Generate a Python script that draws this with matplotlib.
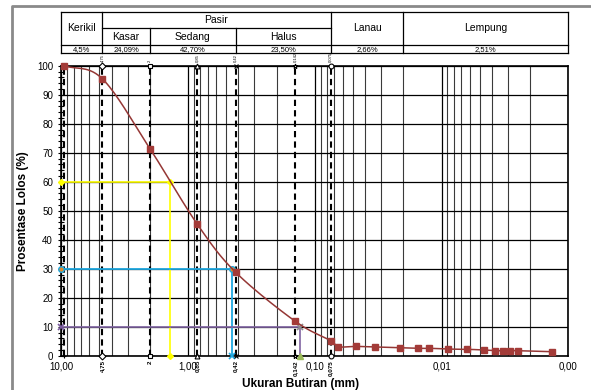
import numpy as np
import matplotlib.pyplot as plt
from matplotlib.lines import Line2D
from matplotlib.ticker import FixedLocator, NullFormatter
import matplotlib.transforms as mtrans

plt.rcParams['font.family'] = ['Liberation Sans', 'DejaVu Sans']

# data analisa saringan + hidrometer
diam = [9.5, 4.75, 2.0, 0.85, 0.42, 0.142, 0.075,
        0.0659, 0.0472, 0.0334, 0.0212, 0.0154, 0.0125, 0.0089,
        0.0063, 0.0046, 0.0038, 0.0033, 0.0029, 0.0025, 0.00135]
lolos = [100, 95.5, 71.41, 45.5, 28.71, 11.8, 5.21,
         3.1, 3.2, 3.0, 2.76, 2.55, 2.55, 2.3,
         2.2, 1.97, 1.72, 1.72, 1.72, 1.72, 1.38]

saringan = [9.5, 4.75, 2.0, 0.85, 0.42, 0.142, 0.075]
label_saringan = ['', '4,75', '2', '0,85', '0,42', '0,142', '0,075']
marker_saringan = ['+', 'D', 's', '^', 'x', '*', 'o']

d60, d30, d10 = 1.40, 0.45, 0.13

# tabel klasifikasi
batas = [10, 4.75, 2.0, 0.42, 0.075, 0.02, 0.001]
persen = ['4,5%', '24,09%', '42,70%', '23,50%', '2,66%', '2,51%']

xticks = [10, 1, 0.1, 0.01, 0.001]
xticklabels = ['10,00', '1,00', '0,10', '0,01', '0,00']


def smooth(x, y, n=20):
    # catmull-rom di ruang log, seperti garis halus excel
    lx = np.log10(x)
    y = np.array(y, float)
    px = np.r_[2*lx[0]-lx[1], lx, 2*lx[-1]-lx[-2]]
    py = np.r_[2*y[0]-y[1], y, 2*y[-1]-y[-2]]
    ox, oy = [], []
    t = np.linspace(0, 1, n)
    for i in range(1, len(px)-2):
        for p, o in ((px, ox), (py, oy)):
            p0, p1, p2, p3 = p[i-1], p[i], p[i+1], p[i+2]
            o.extend(0.5*((2*p1) + (-p0+p2)*t + (2*p0-5*p1+4*p2-p3)*t**2
                          + (-p0+3*p1-3*p2+p3)*t**3))
    return 10**np.array(ox), np.array(oy)


fig = plt.figure(figsize=(5.91, 3.90), dpi=100)
ax = fig.add_axes([61.3/591, 1-355.7/390, 507/591, 290/390])

ax.set_xscale('log')
ax.set_xlim(10, 0.001)
ax.set_ylim(0, 100)

# grid
ax.xaxis.set_major_locator(FixedLocator(xticks))
ax.set_xticklabels(xticklabels, fontsize=7)
minor = [m*10.0**e for e in range(-3, 1) for m in range(2, 10)]
ax.xaxis.set_minor_locator(FixedLocator(minor))
ax.xaxis.set_minor_formatter(NullFormatter())
ax.set_yticks(np.arange(0, 101, 10))
ax.set_yticks(np.arange(0, 101, 2), minor=True)
ax.tick_params(axis='y', which='both', direction='inout', labelsize=7, length=5, width=0.8)
ax.tick_params(axis='y', which='minor', length=4)
ax.tick_params(axis='x', which='both', length=0, labelsize=7, pad=4)
ax.grid(True, which='major', color='black', lw=0.9)
ax.grid(True, which='minor', axis='x', color='#3a3a3a', lw=0.8)
for s in ax.spines.values():
    s.set_linewidth(1.2)

# garis saringan putus-putus
for d in saringan:
    ax.axvline(d, color='black', lw=1.5, ls=(0, (3, 2)), zorder=3)

trans = mtrans.blended_transform_factory(ax.transData, ax.transAxes)
for d, lab, m in zip(saringan, label_saringan, marker_saringan):
    ax.plot([d, d], [0, 100], ls='none', marker=m, ms=3.5, mfc='white', mec='black',
            mew=0.8, zorder=6, clip_on=False)
    ax.text(d, -0.015, lab, transform=trans, rotation=90, ha='center', va='top',
            fontsize=4.5, fontweight='bold')
    ax.text(d, 1.012, lab, transform=trans, rotation=90, ha='center', va='bottom',
            fontsize=3)

# D60, D30, D10
ax.plot([10, d60, d60], [60, 60, 0], color='#FFFF00', lw=1.2, zorder=4)
ax.plot([10, d60, d60], [60, 60, 0], ls='none', marker='D', ms=3, color='#FFFF00', zorder=5, clip_on=False)
ax.plot([10, d30, d30], [30, 30, 0], color='#1FA8E0', lw=1.3, zorder=4)
ax.plot([10, d30], [30, 30], ls='none', marker='o', ms=4, mfc='#E0892A', mec='#1FA8E0', zorder=5, clip_on=False)
ax.plot([d30], [0], ls='none', marker='x', ms=4, color='#1FA8E0', mew=1.2, zorder=5, clip_on=False)
ax.plot([10, d10, d10], [10, 10, 0], color='#8064A2', lw=1.2, zorder=4)
ax.plot([10], [10], ls='none', marker='x', ms=4, color='#7A5A9E', mew=1.2, zorder=5, clip_on=False)
ax.plot([d10], [10], ls='none', marker='x', ms=4, color='#8C8C8C', mew=1.2, zorder=5)
ax.plot([d10], [0], ls='none', marker='^', ms=4, color='#9BBB59', zorder=5, clip_on=False)

# kurva gradasi
sx, sy = smooth(diam, lolos)
ax.plot(sx, sy, color='#953735', lw=1.1, zorder=7)
ax.plot(diam, lolos, ls='none', marker='s', ms=4, color='#A33B38', zorder=8, clip_on=False)

ax.set_ylabel('Prosentase Lolos (%)', fontsize=8.5, fontweight='bold', labelpad=6)
fig.text(301/591, 1-389.5/390, 'Ukuran Butiran (mm)', fontsize=8.5, fontweight='bold',
         ha='center', va='bottom')

# tabel di atas grafik
y_top, y_mid, y_pct, y_bot = 1.1852, 1.129, 1.0714, 1.0428
kw = dict(transform=trans, color='black', lw=0.9, clip_on=False)
ax.plot([batas[0], batas[-1]], [y_top, y_top], **kw)
ax.plot([batas[0], batas[-1]], [y_pct, y_pct], **kw)
ax.plot([batas[0], batas[-1]], [y_bot, y_bot], **kw)
ax.plot([batas[1], batas[4]], [y_mid, y_mid], **kw)
for i, b in enumerate(batas):
    top = y_mid if i in (2, 3) else y_top
    ax.plot([b, b], [y_bot, top], **kw)


def mid(a, b):
    return np.sqrt(a*b)


ax.text(mid(batas[0], batas[1]), (y_top+y_pct)/2, 'Kerikil', transform=trans, ha='center', va='center', fontsize=7.5)
ax.text(mid(batas[1], batas[4]), (y_top+y_mid)/2, 'Pasir', transform=trans, ha='center', va='center', fontsize=7.5)
for a, b, t in [(1, 2, 'Kasar'), (2, 3, 'Sedang'), (3, 4, 'Halus')]:
    ax.text(mid(batas[a], batas[b]), (y_mid+y_pct)/2, t, transform=trans, ha='center', va='center', fontsize=7.5)
ax.text(mid(batas[4], batas[5]), (y_top+y_pct)/2, 'Lanau', transform=trans, ha='center', va='center', fontsize=7.5)
ax.text(mid(batas[5], batas[6]), (y_top+y_pct)/2, 'Lempung', transform=trans, ha='center', va='center', fontsize=7.5)
for i, p in enumerate(persen):
    ax.text(mid(batas[i], batas[i+1]), (y_pct+y_bot)/2, p, transform=trans, ha='center', va='center', fontsize=5.5)

# bingkai luar
fig.add_artist(Line2D([11.7/591, 11.7/591, 1.0], [0.0, 1-5.7/390, 1-5.7/390],
                      color='#8a8a8a', lw=2, transform=fig.transFigure))

fig.savefig('out.png', dpi=100)
